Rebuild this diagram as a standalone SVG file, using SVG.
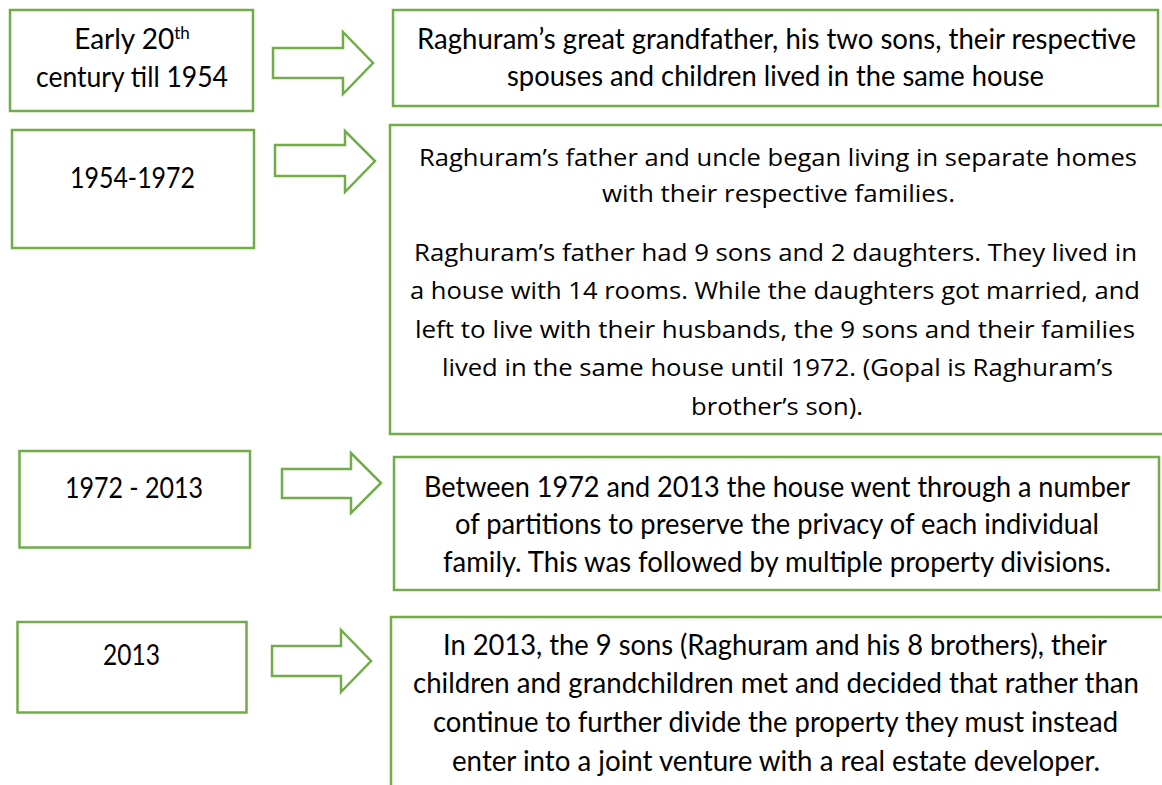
<svg xmlns="http://www.w3.org/2000/svg" width="1162" height="785" viewBox="0 0 1162 785">
<style>
.box{fill:#fff;stroke:#70AD47;stroke-width:2.5}
.arr{fill:#fff;stroke:#70AD47;stroke-width:2.5;stroke-linejoin:miter}
.c{font-family:Lato,"Liberation Sans",sans-serif;font-size:28px;fill:#000;text-anchor:middle}
.s{font-family:"Open Sans","Liberation Sans",sans-serif;font-size:24px;fill:#000;text-anchor:middle}
</style>
<rect width="1162" height="785" fill="#fff"/>
<g id="connectors">
<polygon class="arr" points="273,48 343,48 343,32 373,63 343,94 343,78 273,78"/>
<polygon class="arr" points="275,145 345,145 345,131 375,161 345,192 345,176 275,176"/>
<polygon class="arr" points="282,469 351,469 351,453 381,483 351,513 351,498 282,498"/>
<polygon class="arr" points="272,646 341,646 341,630 371,661 341,692 341,676 272,676"/>
</g>
<g id="period1">
<rect class="box" x="10" y="10" width="243" height="101"/>
<text class="c" x="132" y="49">Early 20<tspan font-size="17" dy="-10">th</tspan></text>
<text class="c" x="132" y="87" textLength="192" lengthAdjust="spacingAndGlyphs">century till 1954</text>
</g>
<g id="period2">
<rect class="box" x="12" y="130" width="242" height="118"/>
<text class="c" x="132.5" y="188" textLength="125" lengthAdjust="spacingAndGlyphs">1954-1972</text>
</g>
<g id="period3">
<rect class="box" x="19.5" y="451" width="230.5" height="96.5"/>
<text class="c" x="134" y="498" textLength="138" lengthAdjust="spacingAndGlyphs">1972 - 2013</text>
</g>
<g id="period4">
<rect class="box" x="17.5" y="622" width="229" height="90.5"/>
<text class="c" x="131.5" y="665" textLength="57" lengthAdjust="spacingAndGlyphs">2013</text>
</g>
<g id="event1">
<rect class="box" x="393" y="10" width="765" height="96"/>
<text class="c" x="776.5" y="49" textLength="719" lengthAdjust="spacingAndGlyphs">Raghuram’s great grandfather, his two sons, their respective</text>
<text class="c" x="775.5" y="86" textLength="537" lengthAdjust="spacingAndGlyphs">spouses and children lived in the same house</text>
</g>
<g id="event2">
<rect class="box" x="390" y="125" width="780" height="309"/>
<text class="s" x="778" y="166" textLength="718" lengthAdjust="spacingAndGlyphs">Raghuram’s father and uncle began living in separate homes</text>
<text class="s" x="778.5" y="202" textLength="353" lengthAdjust="spacingAndGlyphs">with their respective families.</text>
<text class="s" x="775.5" y="261" textLength="723" lengthAdjust="spacingAndGlyphs">Raghuram’s father had 9 sons and 2 daughters. They lived in</text>
<text class="s" x="775" y="299" textLength="730" lengthAdjust="spacingAndGlyphs">a house with 14 rooms. While the daughters got married, and</text>
<text class="s" x="775" y="338" textLength="720" lengthAdjust="spacingAndGlyphs">left to live with their husbands, the 9 sons and their families</text>
<text class="s" x="777.5" y="376" textLength="671" lengthAdjust="spacingAndGlyphs">lived in the same house until 1972. (Gopal is Raghuram’s</text>
<text class="s" x="777" y="415" textLength="172" lengthAdjust="spacingAndGlyphs">brother’s son).</text>
</g>
<g id="event3">
<rect class="box" x="394" y="457" width="765" height="133"/>
<text class="c" x="777" y="497" textLength="706" lengthAdjust="spacingAndGlyphs">Between 1972 and 2013 the house went through a number</text>
<text class="c" x="777" y="534" textLength="644" lengthAdjust="spacingAndGlyphs">of partitions to preserve the privacy of each individual</text>
<text class="c" x="777" y="572" textLength="668" lengthAdjust="spacingAndGlyphs">family. This was followed by multiple property divisions.</text>
</g>
<g id="event4">
<rect class="box" x="391" y="617" width="780" height="180"/>
<text class="c" x="775" y="655" textLength="664" lengthAdjust="spacingAndGlyphs">In 2013, the 9 sons (Raghuram and his 8 brothers), their</text>
<text class="c" x="776" y="693" textLength="726" lengthAdjust="spacingAndGlyphs">children and grandchildren met and decided that rather than</text>
<text class="c" x="775.5" y="732" textLength="685" lengthAdjust="spacingAndGlyphs">continue to further divide the property they must instead</text>
<text class="c" x="776" y="771" textLength="648" lengthAdjust="spacingAndGlyphs">enter into a joint venture with a real estate developer.</text>
</g>
</svg>
